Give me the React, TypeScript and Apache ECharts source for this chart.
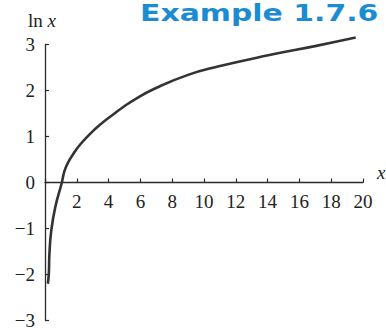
import React, { useEffect, useRef } from "react";
import * as echarts from "echarts";

// Points
const xValues = [0.18, 0.24, 0.28, 0.4, 0.65, 1.06, 1.2, 1.4, 1.78, 2.2, 2.82, 3.4, 4.37, 4.88, 5.71, 6.95, 9.0, 10.87, 13.96, 17.06, 19.54];
const yValues = [-2.2, -1.98, -1.54, -1.03, -0.53, 0, 0.22, 0.4, 0.62, 0.82, 1.05, 1.24, 1.5, 1.63, 1.82, 2.05, 2.34, 2.52, 2.76, 2.97, 3.15];

const xTicks = [0, 2, 4, 6, 8, 10, 12, 14, 16, 18, 20];
const yTicks = [-3, -2, -1, 0, 1, 2, 3];

const SERIF = "'Liberation Serif', 'DejaVu Serif', serif";
const INK = "#2b2b2b";

const GRID_TOP = 44.5;
const GRID_BOTTOM = 7.5;
const HEIGHT = 328;

export default function App() {
  const ref = useRef<HTMLDivElement>(null);

  useEffect(() => {
    if (!ref.current) return;
    const chart = echarts.init(ref.current, undefined, { renderer: "svg" });
    const points = xValues.map((x, i) => [x, yValues[i]]);

    const yMin = yTicks[0];
    const yMax = yTicks[yTicks.length - 1];
    const plotH = HEIGHT - GRID_TOP - GRID_BOTTOM;
    // lift the x axis from the bottom edge up to y = 0
    const zeroOffset = -plotH * (0 - yMin) / (yMax - yMin);

    chart.setOption({
      animation: false,
      backgroundColor: "#ffffff",
      grid: {
        left: 45,
        right: 23,
        top: GRID_TOP,
        bottom: GRID_BOTTOM,
        containLabel: false,
        outerBoundsMode: "none",
      },
      xAxis: {
        type: "value",
        position: "bottom",
        offset: zeroOffset,
        min: xTicks[0],
        max: xTicks[xTicks.length - 1],
        interval: 2,
        axisLine: { onZero: false, lineStyle: { color: INK, width: 1.3 } },
        axisTick: { inside: true, length: 4, lineStyle: { color: INK, width: 1.2 } },
        axisLabel: {
          margin: 9,
          fontFamily: SERIF,
          fontSize: 19,
          color: "#222",
          formatter: (v: number) => (v === 0 ? "" : String(v)),
        },
        splitLine: { show: false },
      },
      yAxis: {
        type: "value",
        min: yMin,
        max: yMax,
        interval: 1,
        axisLine: { show: true, onZero: false, lineStyle: { color: INK, width: 1.3 } },
        axisTick: { show: true, inside: true, length: 4, lineStyle: { color: INK, width: 1.2 } },
        axisLabel: {
          margin: 10,
          fontFamily: SERIF,
          fontSize: 19,
          color: "#222",
          formatter: (v: number) => (v < 0 ? "\u2212" + Math.abs(v) : String(v)),
        },
        splitLine: { show: false },
      },
      series: [
        {
          type: "line",
          data: points,
          smooth: 0.5,
          clip: false,
          symbol: "none",
          lineStyle: { color: "#333", width: 2.6 },
        },
      ],
      graphic: [
        {
          type: "text",
          left: 28,
          top: 11,
          style: {
            text: "{n|ln }{v|x}",
            rich: {
              n: { fontFamily: SERIF, fontSize: 19, fill: "#222" },
              v: { fontFamily: SERIF, fontSize: 19, fontStyle: "italic", fill: "#222" },
            },
          },
        },
        {
          type: "text",
          left: 377,
          top: 163,
          style: { text: "x", fontFamily: SERIF, fontSize: 19, fontStyle: "italic", fill: "#222" },
        },
        {
          type: "text",
          x: 140,
          y: 1,
          scaleX: 1.3,
          style: {
            text: "Example 1.7.6",
            fontFamily: "'DejaVu Sans', sans-serif",
            fontWeight: "bold",
            fontSize: 23,
            fill: "#1b8bd2",
          },
        },
      ],
    });

    return () => chart.dispose();
  }, []);

  return <div ref={ref} style={{ width: 386, height: 328, position: "absolute", left: 0, top: 0 }} />;
}
